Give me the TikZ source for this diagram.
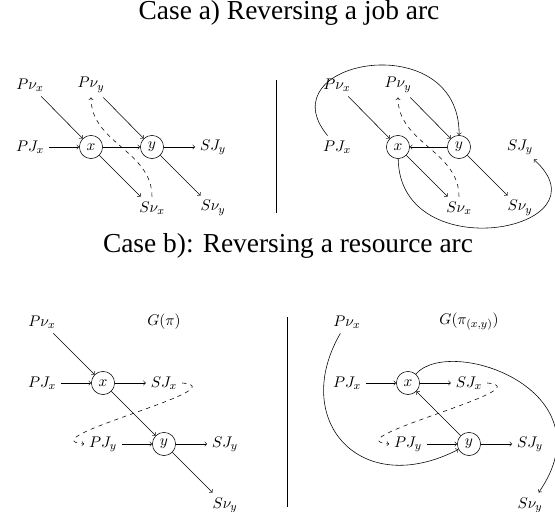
\documentclass[tikz,border=0pt]{standalone}
\usepackage{fontspec}
\newfontfamily\capfont{Liberation Serif}
\begin{document}
\begin{tikzpicture}[>=to, font=\fontsize{11}{13}\selectfont,
  vert/.style={circle, draw, minimum size=0.58cm, inner sep=1pt},
  capt/.style={anchor=base, font=\capfont\fontsize{19.5}{23}\selectfont},
  revdash/.style={->, dashed}]
  \useasboundingbox (0,0) rectangle (13.875,12.8);
  \node[capt] (capa) at (7.225,12.3) {Case a) Reversing a job arc};
  \node[capt] (capb) at (7.2,6.475) {Case b): Reversing a resource arc};
  \draw[line width=0.6pt] (6.92,10.8) -- (6.92,7.475);
  \draw[line width=0.6pt] (7.18,4.875) -- (7.18,0.125);
  % case a), before
  \node (Pvxa) at (0.75,10.675) {$P\nu_x$};
  \node (Pvya) at (2.275,10.675) {$P\nu_y$};
  \node (PJxa) at (0.75,9.125) {$PJ_x$};
  \node[vert] (xa) at (2.275,9.125) {$x$};
  \node[vert] (ya) at (3.8,9.125) {$y$};
  \node (SJya) at (5.325,9.125) {$SJ_y$};
  \node (Svxa) at (3.8,7.6) {$S\nu_x$};
  \node (Svya) at (5.325,7.6) {$S\nu_y$};
  \draw[->] (Pvxa) -- (xa);
  \draw[->] (Pvya) -- (ya);
  \draw[->] (PJxa) -- (xa);
  \draw[->] (xa) -- (ya);
  \draw[->] (ya) -- (SJya);
  \draw[->] (xa) -- (Svxa);
  \draw[->] (ya) -- (Svya);
  \draw[revdash] (Svxa.north) to[out=90, in=-90] (Pvya.south);
  % case a), after
  \node (Pvxb) at (8.425,10.675) {$P\nu_x$};
  \node (Pvyb) at (9.95,10.675) {$P\nu_y$};
  \node (PJxb) at (8.425,9.125) {$PJ_x$};
  \node[vert] (xb) at (9.95,9.125) {$x$};
  \node[vert] (yb) at (11.475,9.125) {$y$};
  \node (SJyb) at (13.0,9.125) {$SJ_y$};
  \node (Svxb) at (11.475,7.6) {$S\nu_x$};
  \node (Svyb) at (13.0,7.6) {$S\nu_y$};
  \draw[->] (Pvxb) -- (xb);
  \draw[->] (Pvyb) -- (yb);
  \draw[->] (yb) -- (xb);
  \draw[->] (xb) -- (Svxb);
  \draw[->] (yb) -- (Svyb);
  \draw[revdash] (Svxb.north) to[out=90, in=-90] (Pvyb.south);
  \draw[->] (PJxb) .. controls (6.625,11.3) and (11.5,12.175) .. (yb);
  \draw[->] (xb) .. controls (10.0,6.05) and (15.3,7.05) .. (SJyb);
  % case b), before
  \node (Pvxc) at (1.05,4.75) {$P\nu_x$};
  \node (Gc) at (4.1,4.75) {$G(\pi)$};
  \node (PJxc) at (1.05,3.225) {$PJ_x$};
  \node[vert] (xc) at (2.575,3.225) {$x$};
  \node (SJxc) at (4.1,3.225) {$SJ_x$};
  \node (PJyc) at (2.575,1.7) {$PJ_y$};
  \node[vert] (yc) at (4.1,1.7) {$y$};
  \node (SJyc) at (5.625,1.7) {$SJ_y$};
  \node (Svyc) at (5.625,0.175) {$S\nu_y$};
  \draw[->] (Pvxc) -- (xc);
  \draw[->] (PJxc) -- (xc);
  \draw[->] (xc) -- (SJxc);
  \draw[->] (xc) -- (yc);
  \draw[->] (PJyc) -- (yc);
  \draw[->] (yc) -- (SJyc);
  \draw[->] (yc) -- (Svyc);
  \draw[revdash] (SJxc.east) to[out=-5, in=175, looseness=1.3] (PJyc.west);
  % case b), after
  \node (Pvxd) at (8.675,4.75) {$P\nu_x$};
  \node (Gd) at (11.725,4.75) {$G(\pi_{(x,y)})$};
  \node (PJxd) at (8.675,3.225) {$PJ_x$};
  \node[vert] (xd) at (10.2,3.225) {$x$};
  \node (SJxd) at (11.725,3.225) {$SJ_x$};
  \node (PJyd) at (10.2,1.7) {$PJ_y$};
  \node[vert] (yd) at (11.725,1.7) {$y$};
  \node (SJyd) at (13.25,1.7) {$SJ_y$};
  \node (Svyd) at (13.25,0.175) {$S\nu_y$};
  \draw[->] (PJxd) -- (xd);
  \draw[->] (xd) -- (SJxd);
  \draw[->] (yd) -- (xd);
  \draw[->] (PJyd) -- (yd);
  \draw[->] (yd) -- (SJyd);
  \draw[revdash] (SJxd.east) to[out=-5, in=175, looseness=1.3] (PJyd.west);
  \draw[->] (Pvxd) .. controls (7.25,2.3) and (9.0,0.3) .. (yd);
  \draw[->] (xd) .. controls (11.25,4.425) and (15.25,3.05) .. (Svyd);
\end{tikzpicture}
\end{document}
